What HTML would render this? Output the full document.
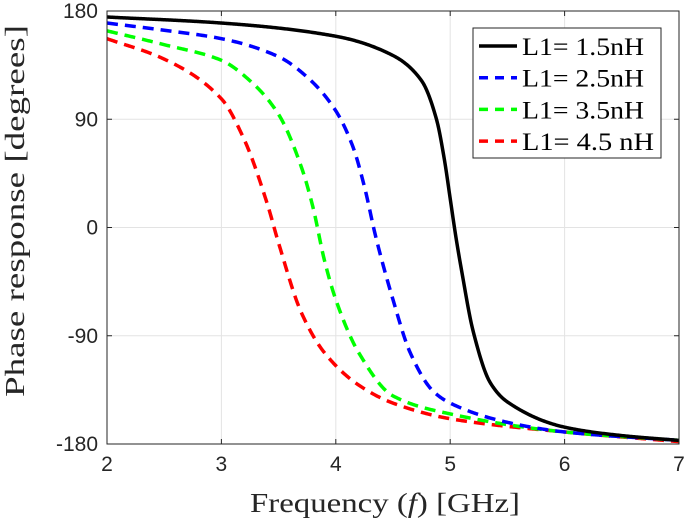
<!DOCTYPE html>
<html><head><meta charset="utf-8">
<style>
body{margin:0;background:#fff;}
svg{display:block;}
.tick{font-family:"Liberation Sans",sans-serif;font-size:21px;fill:#262626;}
.lab{font-family:"Liberation Serif",serif;font-size:27px;fill:#262626;}
.leg{font-family:"Liberation Serif",serif;font-size:25px;fill:#000;}
</style></head><body>
<svg id="chart" width="685" height="528"></svg>
<script>
const xTicks=[2,3,4,5,6,7];
const yTicks=[180,90,0,-90,-180];
const seriesNames=["L1= 1.5nH","L1= 2.5nH","L1= 3.5nH","L1= 4.5 nH"];
const seriesColors=["#000000","#0000ff","#00ff00","#ff0000"];
const blackX=[2,3,4,4.5,4.75,4.88,4.95,5.0,5.05,5.1,5.2,5.35,5.5,6,6.5,7];
const blackY=[175,170,159,143,122,90,56,24,-8,-36,-86,-129,-145,-166,-173,-177];
const blueX=[2,2.5,3,3.5,3.75,4,4.15,4.25,4.35,4.5,4.65,4.85,5,5.5,6,7];
const blueY=[170,164,157,142,125,97,67,34,-8,-60,-104,-136,-146,-162,-170,-177];
const greenX=[2,2.5,3,3.25,3.5,3.7,3.8,3.9,4.0,4.2,4.5,5,6,7];
const greenY=[163.5,152,139,122,94,50,17,-27,-60,-104,-140,-155,-170,-177];
const redX=[2,2.5,3,3.2,3.4,3.5,3.7,3.9,4.2,4.5,5,6,7];
const redY=[157,140,107,73,20,-13,-71,-104,-131,-146,-159,-170,-178];

const L=107,R=679,T=11,B=444;
const sx=v=>L+(v-2)/5*(R-L);
const sy=v=>T+(180-v)/360*(B-T);
const NS="http://www.w3.org/2000/svg";
const svg=document.getElementById('chart');
function mk(tag,attrs,parent){const e=document.createElementNS(NS,tag);for(const k in attrs)e.setAttribute(k,attrs[k]);(parent||svg).appendChild(e);return e;}
mk('rect',{x:L,y:T,width:R-L,height:B-T,fill:'#fff'});
xTicks.forEach(t=>{
  const g=mk('line',{x1:sx(t),x2:sx(t),y1:T,y2:B,stroke:'#e3e3e3','stroke-width':1});
  
  
  mk('line',{x1:sx(t),x2:sx(t),y1:B,y2:B-5,stroke:'#262626'});
  mk('line',{x1:sx(t),x2:sx(t),y1:T,y2:T+5,stroke:'#262626'});
  const tx=mk('text',{x:sx(t),y:B+27,'text-anchor':'middle',class:'tick'});
  tx.textContent=t;
  
  
});
yTicks.forEach(t=>{
  const g=mk('line',{x1:L,x2:R,y1:sy(t),y2:sy(t),stroke:'#e3e3e3','stroke-width':1});
  
  
  mk('line',{x1:L,x2:L+5,y1:sy(t),y2:sy(t),stroke:'#262626'});
  mk('line',{x1:R,x2:R-5,y1:sy(t),y2:sy(t),stroke:'#262626'});
  const tx=mk('text',{x:L-9,y:sy(t)+7,'text-anchor':'end',class:'tick'});
  tx.textContent=t;
  
  
});
function monotone(xs,ys){
  const n=xs.length,d=[],m=new Array(n);
  for(let i=0;i<n-1;i++)d.push((ys[i+1]-ys[i])/(xs[i+1]-xs[i]));
  m[0]=d[0];m[n-1]=d[n-2];
  for(let i=1;i<n-1;i++){
    if(d[i-1]*d[i]<=0)m[i]=0;
    else{const w1=2*(xs[i+1]-xs[i])+(xs[i]-xs[i-1]),w2=(xs[i+1]-xs[i])+2*(xs[i]-xs[i-1]);m[i]=(w1+w2)/(w1/d[i-1]+w2/d[i]);}
  }
  return x=>{
    let i=0;while(i<n-2&&x>xs[i+1])i++;
    const h=xs[i+1]-xs[i],t=(x-xs[i])/h,t2=t*t,t3=t2*t;
    return (2*t3-3*t2+1)*ys[i]+(t3-2*t2+t)*h*m[i]+(-2*t3+3*t2)*ys[i+1]+(t3-t2)*h*m[i+1];
  };
}
function pathFor(xs,ys){
  const f=monotone(xs,ys);let d='';
  for(let k=0;k<=600;k++){const x=xs[0]+(xs[xs.length-1]-xs[0])*k/600;d+=(k?'L':'M')+sx(x).toFixed(2)+','+sy(f(x)).toFixed(2);}
  return d;
}
const allX=[blackX,blueX,greenX,redX],allY=[blackY,blueY,greenY,redY];
const serNames=['series-1-5nh','series-2-5nh','series-3-5nh','series-4-5nh'];
for(let i=3;i>=0;i--){
  const pth=mk('path',{d:pathFor(allX[i],allY[i]),fill:'none',stroke:seriesColors[i],'stroke-width':3.5,'stroke-linejoin':'round','stroke-dasharray':i==0?'none':'11,7'});
  
  
}
mk('rect',{x:L,y:T,width:R-L,height:B-T,fill:'none',stroke:'#262626','stroke-width':1});
const lg=mk('g',{});


mk('rect',{x:473,y:28,width:188,height:130,fill:'#fff',stroke:'#262626','stroke-width':1},lg);
const legW=[122,122,122,132];
seriesNames.forEach((n,i)=>{
  const y=44+i*31.7;
  const e=mk('g',{},lg);
  
  
  mk('line',{x1:479,x2:517,y1:y+2,y2:y+2,stroke:seriesColors[i],'stroke-width':3.5,'stroke-dasharray':i==0?'none':'9,7'},e);
  const t=mk('text',{x:522,y:y+11,class:'leg',textLength:legW[i],lengthAdjust:'spacingAndGlyphs'},e);t.textContent=n;
});
const xl=mk('text',{x:250,y:512,class:'lab',textLength:270,lengthAdjust:'spacingAndGlyphs'});
xl.innerHTML='Frequency (<tspan font-style="italic">f</tspan>) [GHz]';


const yl=mk('text',{x:-397,y:24,class:'lab',transform:'rotate(-90)',textLength:372,lengthAdjust:'spacingAndGlyphs'});
yl.textContent='Phase response [degrees]';


</script>
</body></html>
